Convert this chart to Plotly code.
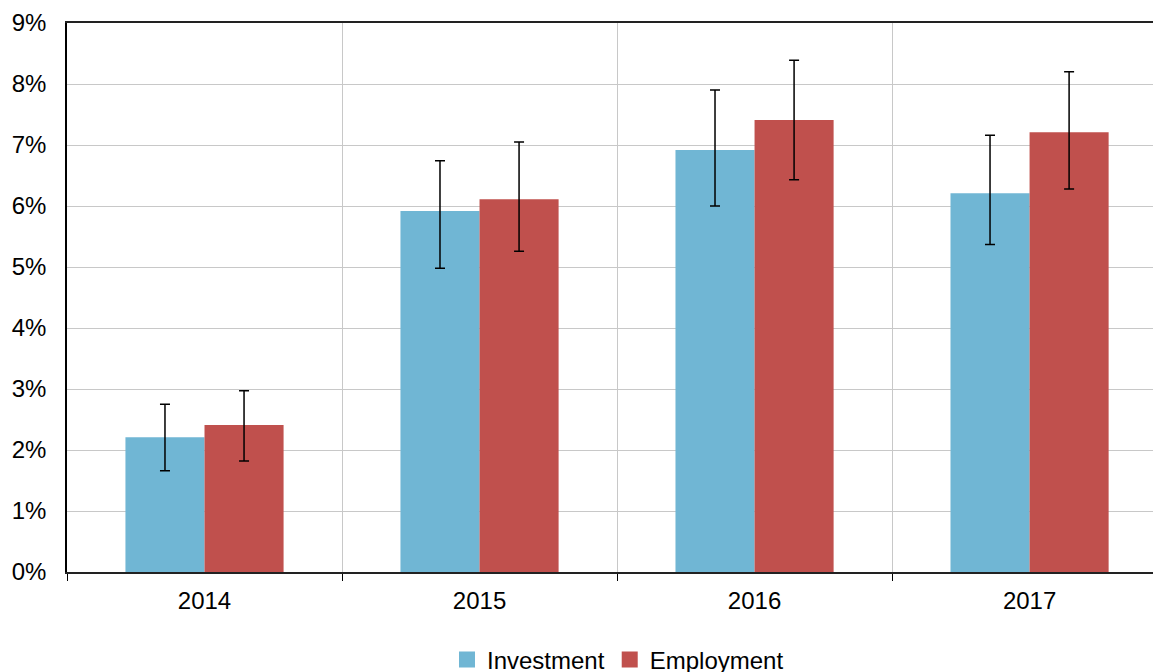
import plotly.graph_objs as go

years = ['2014', '2015', '2016', '2017']

investment = [2.21, 5.92, 6.92, 6.21]
investment_hi = [2.75, 6.74, 7.90, 7.16]
investment_lo = [1.66, 4.98, 6.00, 5.37]

employment = [2.41, 6.11, 7.41, 7.21]
employment_hi = [2.97, 7.05, 8.39, 8.20]
employment_lo = [1.82, 5.26, 6.43, 6.28]

y_ticks = [0, 1, 2, 3, 4, 5, 6, 7, 8, 9]
y_labels = [f'{t}%' for t in y_ticks]

colors = {'Investment': '#70b6d4', 'Employment': '#c0504d'}


def err(vals, hi, lo):
    return dict(type='data', symmetric=False,
                array=[h - v for v, h in zip(vals, hi)],
                arrayminus=[v - l for v, l in zip(vals, lo)],
                color='black', thickness=1.5, width=5)


fig = go.Figure()
fig.add_trace(go.Bar(x=years, y=investment, name='Investment', marker_color=colors['Investment'],
                     marker_line_width=0, showlegend=False,
                     error_y=err(investment, investment_hi, investment_lo)))
fig.add_trace(go.Bar(x=years, y=employment, name='Employment', marker_color=colors['Employment'],
                     marker_line_width=0, showlegend=False,
                     error_y=err(employment, employment_hi, employment_lo)))

# legend entries with bigger square swatches
for name, c in colors.items():
    fig.add_trace(go.Scatter(x=[None], y=[None], mode='markers', name=name,
                             marker=dict(symbol='square', size=18, color=c)))

# the page body has an 8px margin, so margins are shifted by 8
fig.update_layout(
    width=1161, height=672,
    margin=dict(l=59, r=0, t=15, b=108, autoexpand=False),
    plot_bgcolor='white', paper_bgcolor='white',
    font=dict(family='Liberation Sans, Arial', size=24, color='black'),
    barmode='group', bargap=0.425, bargroupgap=0,
    legend=dict(orientation='h', x=0.5, xanchor='center', y=-0.16, yanchor='middle',
                font=dict(size=24), itemwidth=30, tracegroupgap=0),
)
fig.update_xaxes(
    range=[-0.5, 3.507], tickson='boundaries', showgrid=True, gridcolor='#c8c8c8', gridwidth=1,
    showline=True, linecolor='#222', linewidth=1.5, mirror=True, automargin=False,
    ticks='outside', ticklen=7, tickcolor='black', tickfont=dict(size=24),
    ticklabelstandoff=6,
)
fig.update_yaxes(
    range=[0, 9], tickvals=y_ticks, ticktext=y_labels, showgrid=True, gridcolor='#c8c8c8',
    gridwidth=1, showline=True, linecolor='black', linewidth=1.5, zeroline=False,
    automargin=False, ticks='', ticklabelstandoff=14, tickfont=dict(size=24),
)

fig.write_html('out.html')
